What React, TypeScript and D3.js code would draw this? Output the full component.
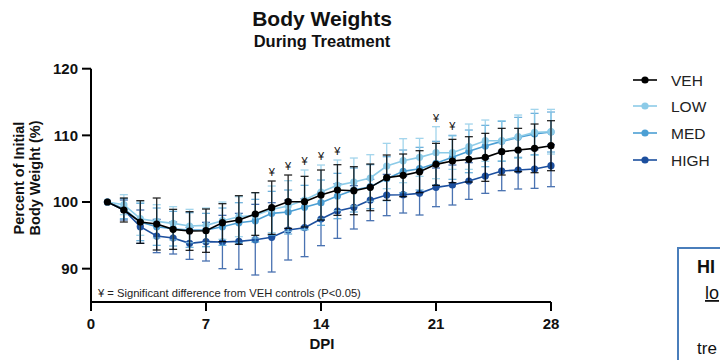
import React from "react";
import * as d3 from "d3";

const days = d3.range(1, 29);
const seriesNames = ["VEH", "LOW", "MED", "HIGH"];
const seriesColors = ["#000000", "#8ccbe8", "#4c9fd4", "#1c4f9e"];

const vehMean = [100, 98.8, 97.0, 96.7, 95.9, 95.65, 95.7, 96.9, 97.3, 98.2, 99.15, 100.05, 100.05, 101.05, 101.8, 101.7, 102.2, 103.65, 104.0, 104.55, 105.65, 106.15, 106.4, 106.7, 107.55, 107.8, 108.05, 108.45];
const lowMean = [100, 99.6, 97.5, 97.1, 96.8, 96.4, 96.5, 97.2, 97.8, 98.0, 98.9, 99.4, 100.3, 101.5, 102.5, 103.0, 103.6, 105.4, 106.2, 106.7, 107.4, 107.4, 108.3, 109.2, 109.2, 109.8, 110.45, 110.55];
const medMean = [100, 99.0, 97.0, 96.3, 96.0, 95.8, 95.8, 96.3, 96.9, 97.2, 98.3, 98.5, 99.2, 99.9, 100.9, 101.8, 102.3, 103.5, 104.6, 105.0, 105.8, 106.7, 107.6, 108.4, 109.1, 109.7, 110.2, 110.5];
const highMean = [100, 98.8, 96.3, 94.9, 94.6, 93.8, 94.05, 94.0, 94.1, 94.35, 94.7, 95.8, 96.15, 97.45, 98.65, 99.2, 100.3, 101.05, 101.1, 101.3, 102.2, 102.55, 103.15, 103.9, 104.65, 104.8, 104.95, 105.45];

const vehSD = [0, 1.8, 3.2, 3.9, 3.0, 2.9, 3.25, 2.85, 3.65, 3.2, 4.0, 4.0, 3.8, 3.75, 3.8, 3.6, 3.5, 3.4, 3.2, 3.15, 3.15, 3.25, 3.4, 3.6, 3.5, 3.25, 3.65, 3.75];
const lowSD = [0, 1.5, 2.5, 2.5, 2.5, 2.5, 2.6, 2.8, 3.0, 3.4, 3.5, 3.8, 4.5, 4.05, 3.8, 3.6, 3.5, 3.4, 3.3, 2.85, 3.9, 2.5, 3.4, 3.1, 3.0, 3.25, 3.45, 3.35];
const medSD = [0, 1.5, 2.8, 2.8, 2.6, 2.6, 2.5, 2.8, 3.0, 3.2, 3.3, 3.3, 3.3, 3.4, 3.4, 3.3, 3.3, 3.3, 3.2, 3.2, 3.3, 3.3, 3.2, 3.1, 3.0, 3.0, 3.1, 3.0];
const highSD = [0, 1.5, 2.5, 2.5, 2.4, 2.4, 2.9, 4.0, 4.2, 5.3, 5.2, 4.5, 4.35, 4.0, 4.1, 3.25, 3.1, 3.1, 2.75, 3.25, 2.9, 3.0, 2.75, 2.6, 2.95, 2.85, 2.9, 3.15];

const sigDays = [11, 12, 13, 14, 15, 21, 22];
const xTicks = [0, 7, 14, 21, 28];
const yTicks = [90, 100, 110, 120];

const means = [vehMean, lowMean, medMean, highMean];
const sds = [vehSD, lowSD, medSD, highSD];

const FONT = "'Liberation Sans', Arial, Helvetica, sans-serif";

export default function App() {
  const x = d3.scaleLinear().domain([0, 28]).range([91, 551]);
  const y = d3.scaleLinear().domain([85, 120]).range([302, 68.7]);
  const line = d3
    .line<number>()
    .x((_, i) => x(days[i]))
    .y((d) => y(d));

  const drawOrder = [3, 2, 1, 0];
  const cap = 4;

  return (
    <svg width={720} height={360} style={{ position: "absolute", left: 0, top: 0, background: "#fff" }} fontFamily={FONT}>
      <rect x={0} y={0} width={720} height={360} fill="#fff" />
      {/* titles */}
      <text x={322} y={26} textAnchor="middle" fontSize={21} fontWeight="bold" fill="#111">Body Weights</text>
      <text x={322} y={47} textAnchor="middle" fontSize={16.5} fontWeight="bold" fill="#111">During Treatment</text>

      {/* y label */}
      <g transform="translate(24,178) rotate(-90)">
        <text x={0} y={0} textAnchor="middle" fontSize={14.5} fontWeight="bold" fill="#111">Percent of Initial</text>
        <text x={0} y={16} textAnchor="middle" fontSize={14.5} fontWeight="bold" fill="#111">Body Weight (%)</text>
      </g>

      {/* axes */}
      <line x1={x(0)} x2={x(0)} y1={y(120)} y2={y(85) + 9} stroke="#000" strokeWidth={2} />
      <line x1={x(0)} x2={x(28)} y1={y(85)} y2={y(85)} stroke="#000" strokeWidth={2} />
      {yTicks.map((t) => (
        <g key={"y" + t}>
          <line x1={x(0) - 9} x2={x(0)} y1={y(t)} y2={y(t)} stroke="#000" strokeWidth={2} />
          <text x={78} y={y(t) + 5.3} textAnchor="end" fontSize={15} fontWeight="bold" fill="#111">{t}</text>
        </g>
      ))}
      {xTicks.map((t) => (
        <g key={"x" + t}>
          <line x1={x(t)} x2={x(t)} y1={y(85)} y2={y(85) + 9} stroke="#000" strokeWidth={2} />
          <text x={x(t)} y={329} textAnchor="middle" fontSize={15} fontWeight="bold" fill="#111">{t}</text>
        </g>
      ))}
      <text x={322} y={349} textAnchor="middle" fontSize={15} fontWeight="bold" fill="#111">DPI</text>

      {/* footnote */}
      <text x={98} y={297} fontSize={11.2} fill="#222">¥ = Significant difference from VEH controls (P&lt;0.05)</text>

      {/* series */}
      {drawOrder.map((si) => {
        const m = means[si];
        const s = sds[si];
        const c = seriesColors[si];
        return (
          <g key={seriesNames[si]}>
            {m.map((v, i) =>
              s[i] > 0 ? (
                <g key={i} stroke={c} strokeWidth={1.3} opacity={si === 0 ? 0.85 : 0.8}>
                  <line x1={x(days[i])} x2={x(days[i])} y1={y(v + s[i])} y2={y(v - s[i])} />
                  <line x1={x(days[i]) - cap} x2={x(days[i]) + cap} y1={y(v + s[i])} y2={y(v + s[i])} />
                  <line x1={x(days[i]) - cap} x2={x(days[i]) + cap} y1={y(v - s[i])} y2={y(v - s[i])} />
                </g>
              ) : null
            )}
            <path d={line(m) || ""} fill="none" stroke={c} strokeWidth={1.6} />
            {m.map((v, i) => (
              <circle key={"c" + i} cx={x(days[i])} cy={y(v)} r={3.6} fill={c} />
            ))}
          </g>
        );
      })}

      {/* significance markers */}
      {sigDays.map((d) => {
        const i = d - 1;
        const top = d3.max(means.map((m, k) => m[i] + sds[k][i])) as number;
        return (
          <text key={"s" + d} x={x(d)} y={y(top) - 5} textAnchor="middle" fontSize={11} fill="#111">¥</text>
        );
      })}

      {/* legend */}
      {seriesNames.map((n, i) => {
        const ly = [80, 106, 133, 160][i];
        return (
          <g key={"l" + n}>
            <line x1={633} x2={657} y1={ly} y2={ly} stroke={seriesColors[i]} strokeWidth={1.6} />
            <circle cx={645} cy={ly} r={3.6} fill={seriesColors[i]} />
            <text x={671} y={ly + 5.5} fontSize={15.5} fill="#222">{n}</text>
          </g>
        );
      })}

      {/* cropped text box */}
      <path d="M720,248 L678,248 L678,360" fill="none" stroke="#4a7ebb" strokeWidth={2} />
      <text x={697} y={273} fontSize={18} fontWeight="bold" fill="#111">HI</text>
      <text x={705} y={299} fontSize={18} fill="#111" textDecoration="underline">lo</text>
      <text x={697} y={354} fontSize={17} fill="#111">tre</text>
    </svg>
  );
}
